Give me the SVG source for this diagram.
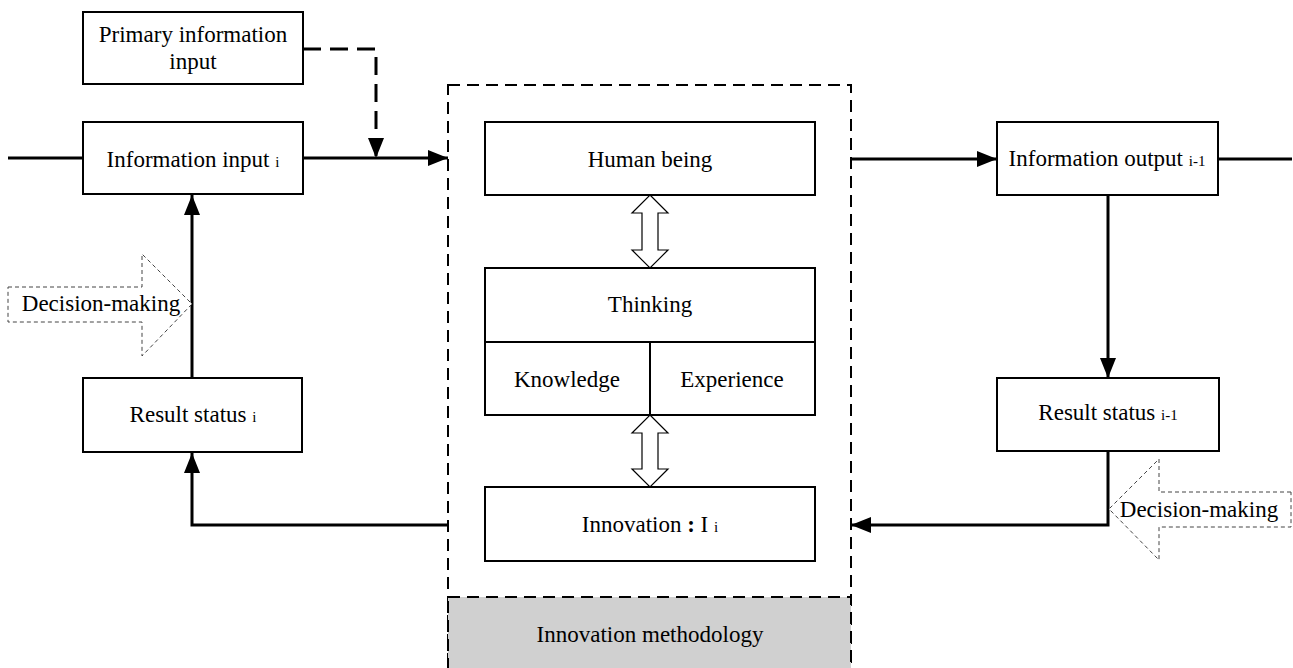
<svg xmlns="http://www.w3.org/2000/svg" width="1293" height="668" viewBox="0 0 1293 668">
<style>
text{font-family:"Liberation Serif","Times New Roman",serif;font-size:23px;fill:#000;text-anchor:middle}
.sub{font-size:15px}
.box{fill:#fff;stroke:#000;stroke-width:2}
.conn{fill:none;stroke:#000;stroke-width:3}
.dashc{fill:none;stroke:#000;stroke-width:3;stroke-dasharray:18,9}
.frame{fill:none;stroke:#000;stroke-width:2;stroke-dasharray:12,7}
.gray{fill:#d0d0d0;stroke:#000;stroke-width:2;stroke-dasharray:12,7}
.dbl{fill:#fff;stroke:#000;stroke-width:1.2}
.dec{fill:#fff;stroke:#444;stroke-width:1;stroke-dasharray:4,3}
</style>
<defs>
<marker id="ah" markerUnits="userSpaceOnUse" markerWidth="20" markerHeight="16" refX="20" refY="8" orient="auto">
<path d="M0,0 L20,8 L0,16 z" fill="#000"/>
</marker>
</defs>
<g id="frame">
<rect class="frame" x="448" y="85" width="403" height="590"/>
</g>
<g id="methodology">
<rect class="gray" x="448" y="597" width="403" height="80"/>
<text x="650" y="642">Innovation methodology</text>
</g>
<g id="connectors">
<line class="conn" x1="8" y1="158" x2="83" y2="158"/>
<line class="conn" x1="303" y1="158" x2="448" y2="158" marker-end="url(#ah)"/>
<polyline class="dashc" points="303,49 376,49 376,158" marker-end="url(#ah)"/>
<line class="conn" x1="192" y1="378" x2="192" y2="195" marker-end="url(#ah)"/>
<polyline class="conn" points="448,525 192,525 192,453" marker-end="url(#ah)"/>
<line class="conn" x1="851" y1="159" x2="997" y2="159" marker-end="url(#ah)"/>
<line class="conn" x1="1218" y1="159" x2="1292" y2="159"/>
<line class="conn" x1="1108" y1="195" x2="1108" y2="378" marker-end="url(#ah)"/>
<polyline class="conn" points="1108,451 1108,525 851,525" marker-end="url(#ah)"/>
<polygon class="dbl" points="650,195 668,213 658,213 658,250 668,250 650,268 632,250 642,250 642,213 632,213"/>
<polygon class="dbl" points="650,415 668,433 658,433 658,469 668,469 650,487 632,469 642,469 642,433 632,433"/>
</g>
<g id="primary">
<rect class="box" x="83" y="12" width="220" height="72"/>
<text x="193" y="42">Primary information</text>
<text x="193" y="69">input</text>
</g>
<g id="info-input">
<rect class="box" x="83" y="122" width="220" height="72"/>
<text x="193" y="167">Information input <tspan class="sub">i</tspan></text>
</g>
<g id="result-i">
<rect class="box" x="83" y="378" width="219" height="74"/>
<text x="193" y="422">Result status <tspan class="sub">i</tspan></text>
</g>
<g id="decision-left">
<polygon class="dec" points="8,287 142,287 142,254 192,304 142,356 142,322 8,322"/>
<text x="101" y="311">Decision-making</text>
</g>
<g id="human">
<rect class="box" x="485" y="122" width="330" height="73"/>
<text x="650" y="167">Human being</text>
</g>
<g id="thinking">
<rect class="box" x="485" y="268" width="330" height="74"/>
<text x="650" y="312">Thinking</text>
</g>
<g id="knowledge">
<rect class="box" x="485" y="342" width="165" height="73"/>
<text x="567" y="387">Knowledge</text>
</g>
<g id="experience">
<rect class="box" x="650" y="342" width="165" height="73"/>
<text x="732" y="387">Experience</text>
</g>
<g id="innovation">
<rect class="box" x="485" y="487" width="330" height="74"/>
<text x="650" y="532">Innovation <tspan font-weight="bold">:</tspan> I <tspan class="sub">i</tspan></text>
</g>
<g id="info-output">
<rect class="box" x="997" y="122" width="221" height="73"/>
<text x="1107" y="166">Information output <tspan class="sub">i-1</tspan></text>
</g>
<g id="result-i1">
<rect class="box" x="997" y="378" width="222" height="73"/>
<text x="1108" y="420">Result status <tspan class="sub">i-1</tspan></text>
</g>
<g id="decision-right">
<polygon class="dec" points="1291,492 1159,492 1159,459 1109,509 1159,560 1159,527 1291,527"/>
<text x="1199" y="517">Decision-making</text>
</g>
</svg>
